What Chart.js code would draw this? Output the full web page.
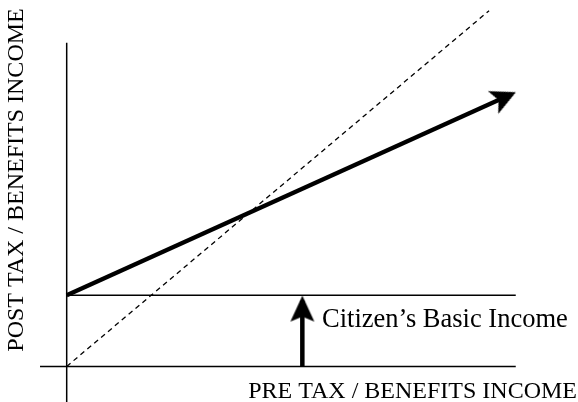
<!DOCTYPE html>
<html>
<head>
<meta charset="utf-8">
<script src="https://cdn.jsdelivr.net/npm/chart.js@4.4.1/dist/chart.umd.min.js"></script>
<style>
  html, body { margin: 0; padding: 0; background: #fff; }
  canvas { display: block; }
</style>
</head>
<body>
<canvas id="chart" width="578" height="402"></canvas>
<script>
// axis ranges (abstract income units)
const xRange = [-1.5, 11.5];
const yRange = [-1, 10.3];

// lines
const postAxis = [{x: 0, y: -1}, {x: 0, y: 9.1}];
const preAxis = [{x: -0.6, y: 0}, {x: 10.1, y: 0}];
const basicLevel = [{x: 0, y: 2}, {x: 10.1, y: 2}];
const noTaxLine = [{x: 0, y: 0}, {x: 9.5, y: 10}];
const cbiArrow = [{x: 0, y: 2}, {x: 10, y: 7.65}];
const basicArrow = [{x: 5.3, y: 0}, {x: 5.3, y: 1.85}];

const yTitle = 'POST TAX / BENEFITS INCOME';
const xTitle = 'PRE TAX / BENEFITS INCOME';
const cbiLabel = 'Citizen\u2019s Basic Income';

// arrow head drawn pointing up, its tip a bit ahead of the canvas centre
function makeHead(len, half, notch, ahead) {
    const size = 2 * (len + ahead) + 2;
    const c = document.createElement('canvas');
    c.width = size;
    c.height = size;
    const g = c.getContext('2d');
    const m = size / 2;
    const tipY = m - ahead;
    g.fillStyle = '#000';
    g.beginPath();
    g.moveTo(m, tipY);
    g.lineTo(m + half, tipY + len);
    g.lineTo(m, tipY + notch);
    g.lineTo(m - half, tipY + len);
    g.closePath();
    g.fill();
    return c;
}

const bigHead = makeHead(25, 12.5, 19, 5);
const smallHead = makeHead(26, 12, 21, 5);

function headRotation(ctx) {
    const ds = ctx.chart.data.datasets[ctx.datasetIndex].data;
    const i = ctx.dataIndex;
    if (i === 0) return 0;
    const sx = ctx.chart.scales.x, sy = ctx.chart.scales.y;
    const dx = sx.getPixelForValue(ds[i].x) - sx.getPixelForValue(ds[i - 1].x);
    const dy = sy.getPixelForValue(ds[i].y) - sy.getPixelForValue(ds[i - 1].y);
    return Math.atan2(dx, -dy) * 180 / Math.PI;
}

function lineSet(data, width, extra) {
    return Object.assign({
        data: data,
        showLine: true,
        borderColor: '#000',
        backgroundColor: '#000',
        borderWidth: width,
        pointRadius: 0,
        pointHoverRadius: 0,
        fill: false,
        tension: 0,
        clip: false
    }, extra || {});
}

function arrowSet(data, width, head) {
    return lineSet(data, width, {
        pointRadius: ctx => ctx.dataIndex === data.length - 1 ? 5 : 0,
        pointStyle: ctx => ctx.dataIndex === data.length - 1 ? head : 'circle',
        pointRotation: headRotation
    });
}

const textPlugin = {
    id: 'labels',
    afterDraw(chart) {
        const g = chart.ctx;
        g.save();
        g.fillStyle = '#000';
        g.font = '24px "Liberation Serif", "Times New Roman", serif';
        g.textBaseline = 'alphabetic';

        g.textAlign = 'right';
        g.fillText(xTitle, 577, 398);

        g.translate(23, 180);
        g.rotate(-Math.PI / 2);
        g.textAlign = 'center';
        g.fillText(yTitle, 0, 0);
        g.restore();

        g.save();
        g.fillStyle = '#000';
        g.font = '26.5px "Liberation Serif", "Times New Roman", serif';
        g.textBaseline = 'alphabetic';
        g.textAlign = 'left';
        g.fillText(cbiLabel, 322, 327);
        g.restore();
    }
};

new Chart(document.getElementById('chart'), {
    type: 'scatter',
    data: {
        datasets: [
            lineSet(postAxis, 1.5),
            lineSet(preAxis, 1.5),
            lineSet(basicLevel, 1.5),
            lineSet(noTaxLine, 1.3, {borderDash: [5, 4]}),
            arrowSet(cbiArrow, 4.2, bigHead),
            arrowSet(basicArrow, 4.5, smallHead)
        ]
    },
    options: {
        responsive: false,
        animation: false,
        layout: {padding: 0, autoPadding: false},
        scales: {
            x: {type: 'linear', min: xRange[0], max: xRange[1], display: false},
            y: {type: 'linear', min: yRange[0], max: yRange[1], display: false}
        },
        plugins: {
            legend: {display: false},
            tooltip: {enabled: false}
        },
        events: []
    },
    plugins: [textPlugin]
});
</script>
</body>
</html>
